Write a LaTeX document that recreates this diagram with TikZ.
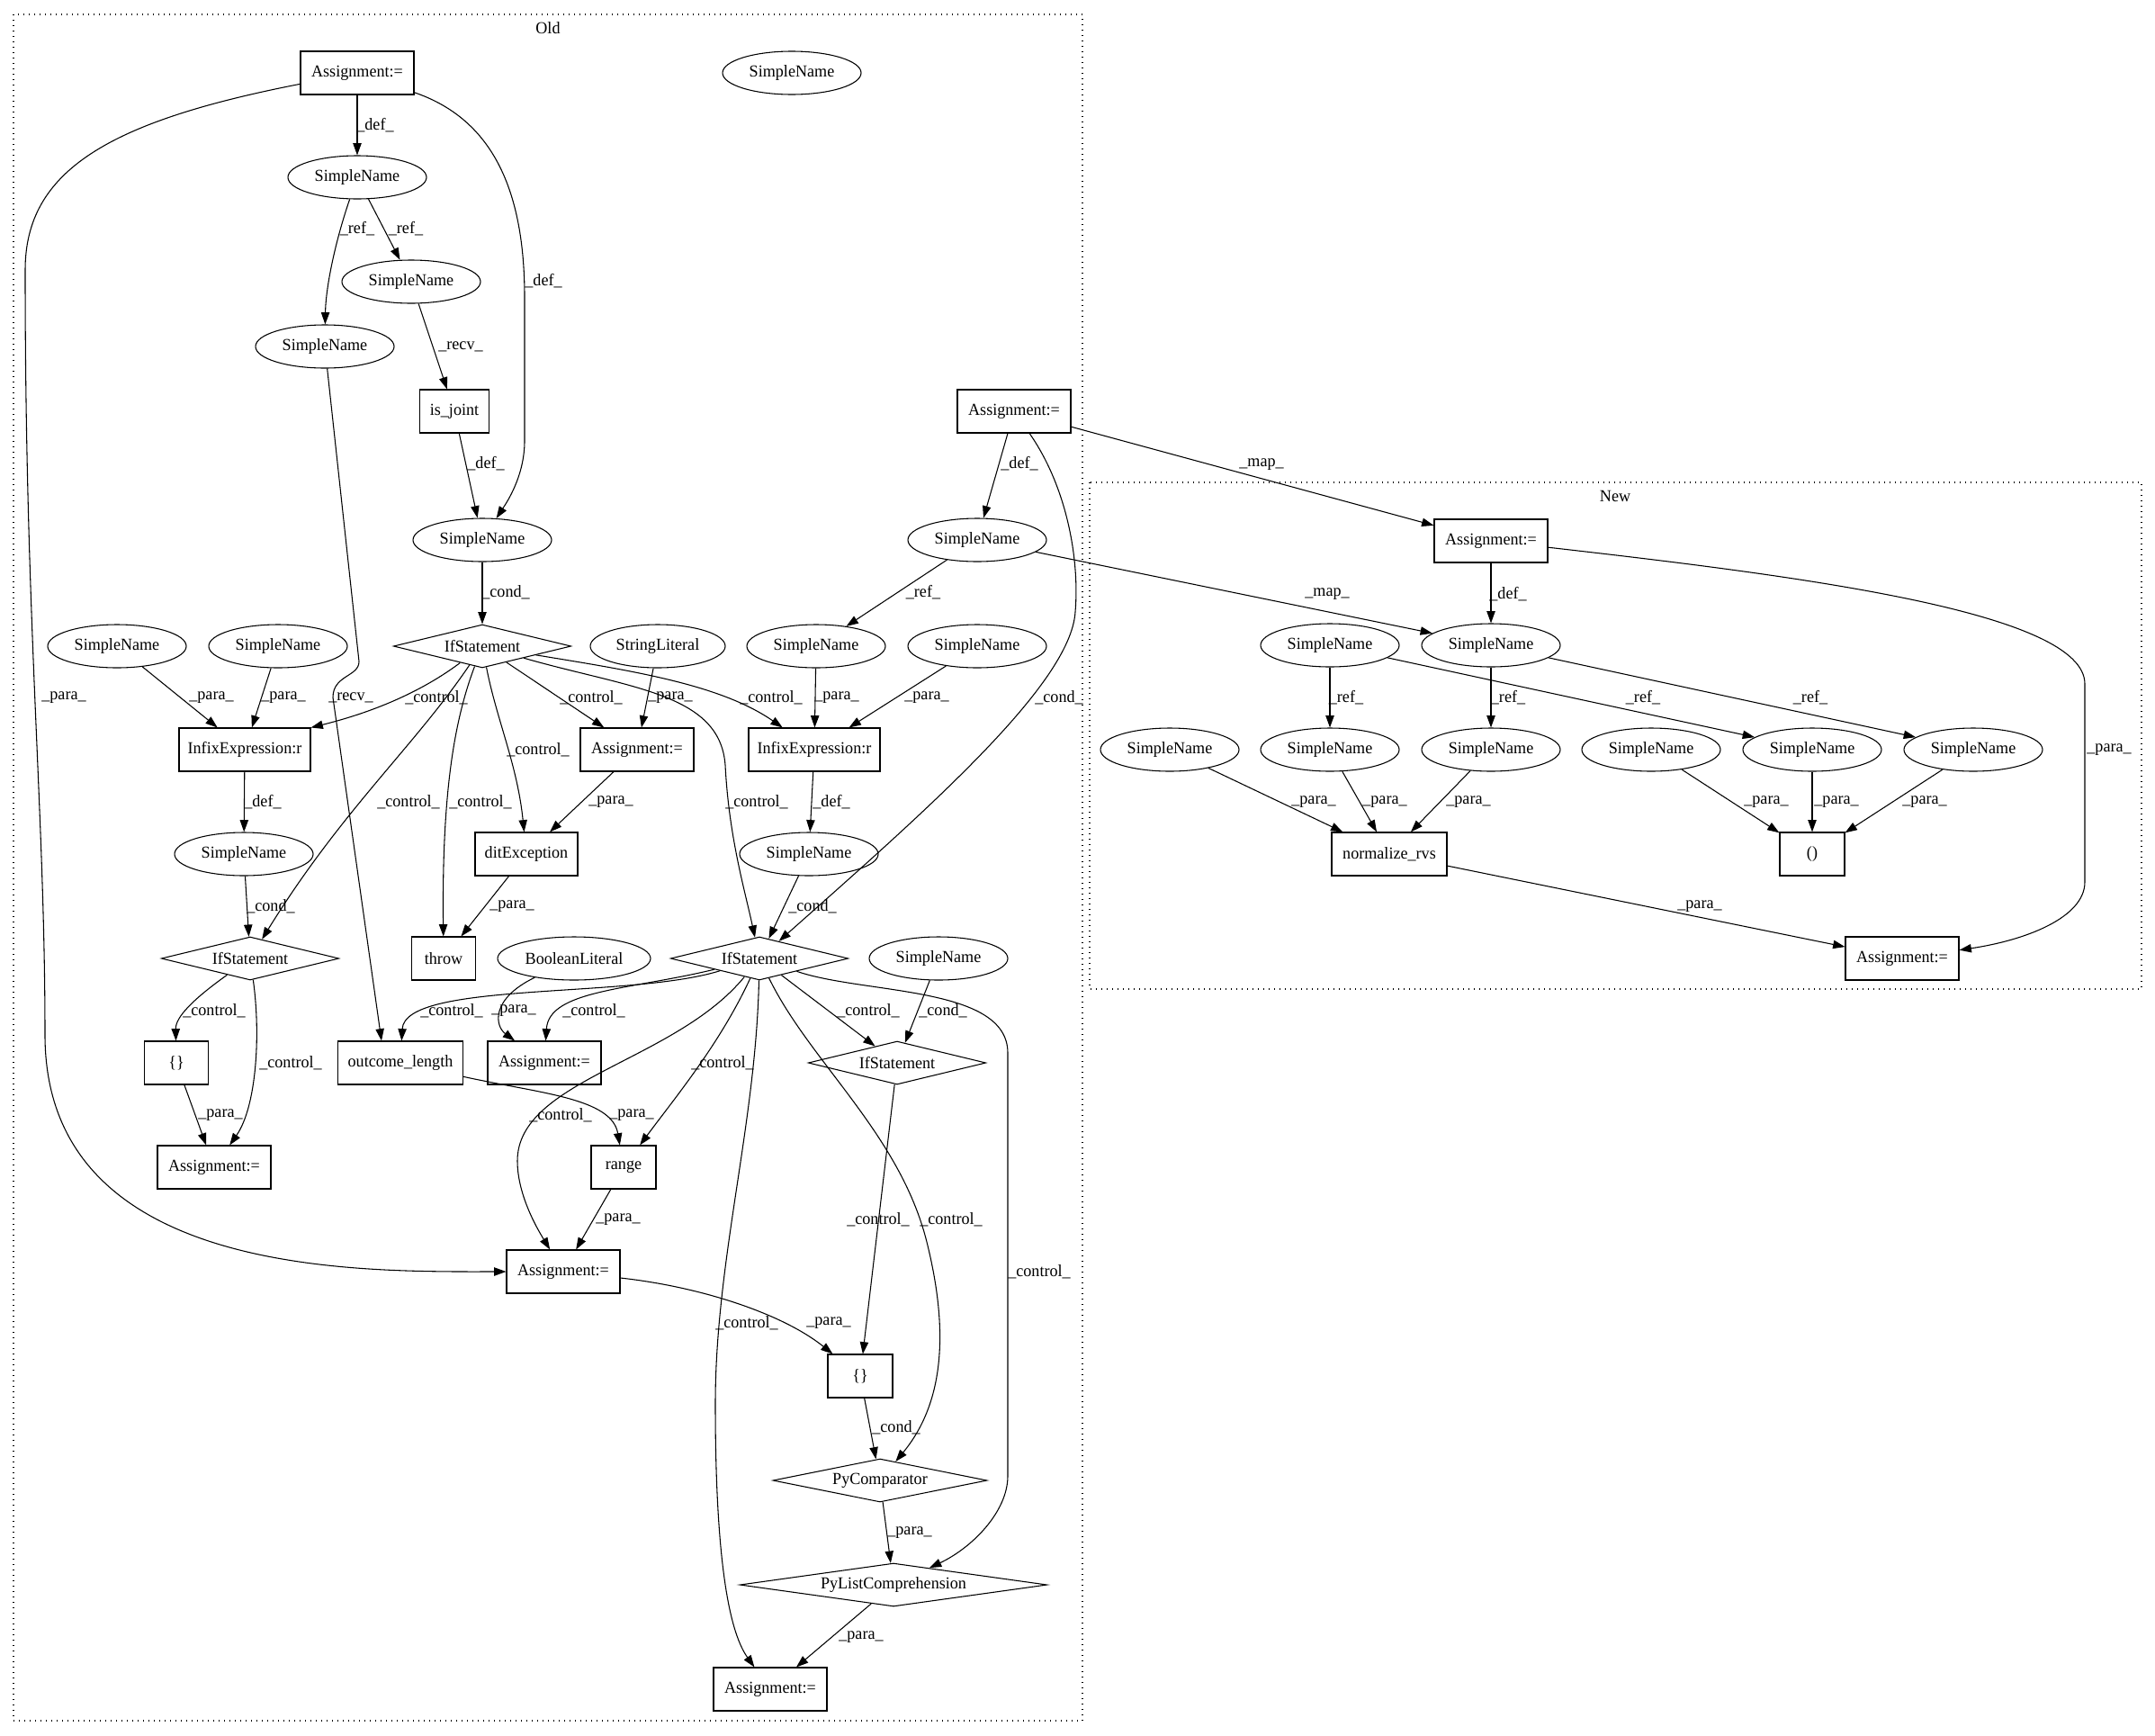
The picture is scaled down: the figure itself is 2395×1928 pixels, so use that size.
\documentclass[tikz,border=0pt]{standalone}
\usepackage{fontspec}
\setmainfont{Liberation Serif}[FakeStretch=0.97]
\usetikzlibrary{shapes.geometric,arrows.meta,calc}
\begin{document}
\begin{tikzpicture}[x=0.75pt,y=-0.75pt,
  every node/.style={font=\fontsize{14}{16}\selectfont},
  sn/.style={draw, ellipse, minimum width=115.5pt, minimum height=36pt, inner sep=0pt, line width=0.8pt},
  bx/.style={draw, rectangle, minimum height=36pt, inner sep=0pt, line width=0.8pt},
  dm/.style={draw, diamond, aspect=4, minimum height=36pt, inner sep=0pt, line width=0.8pt},
  e/.style={line width=0.8pt, -{Triangle[length=10pt,width=7pt]}},
  lbl/.style={inner sep=0pt},
  cl/.style={draw, line width=0.9pt, dash pattern=on 1pt off 3.5pt}]
\useasboundingbox (0,0) rectangle (2395,1928);
\fill[white] (0,0) rectangle (2395,1928);
% clusters
\draw[cl] (15,16) rectangle (1203,1912);
\node (tOld) at (609,31) {Old};
\draw[cl] (1211,536) rectangle (2380,1099);
\node (tNew) at (1795,551) {New};
% Old nodes
\node[bx, minimum width=94.5pt] (A1) at (397,81) {Assignment:=};
\node[sn] (SNt) at (880,81) {SimpleName};
\node[sn] (SN1) at (397,197) {SimpleName};
\node[sn] (SN2) at (457,313) {SimpleName};
\node[sn] (SN3) at (361,385) {SimpleName};
\node[bx, minimum width=58pt] (isj) at (505,457) {is\_joint};
\node[bx, minimum width=94.5pt] (AR) at (1127,457) {Assignment:=};
\node[sn] (SN4) at (536,600) {SimpleName};
\node[sn] (SNR) at (1086,600) {SimpleName};
\node[dm, minimum width=148pt] (If1) at (536,718) {IfStatement};
\node[sn] (SN5) at (130,718) {SimpleName};
\node[sn] (SN6) at (309,718) {SimpleName};
\node[sn, minimum width=112.5pt] (StrL) at (731,718) {StringLiteral};
\node[sn] (SN7) at (907,718) {SimpleName};
\node[sn] (SN8) at (1086,718) {SimpleName};
\node[bx, minimum width=109.5pt] (Inf1) at (272,833) {InfixExpression:r};
\node[bx, minimum width=94.5pt] (As2) at (708,833) {Assignment:=};
\node[bx, minimum width=109.5pt] (Inf2) at (905,833) {InfixExpression:r};
\node[sn] (SN9) at (271,949) {SimpleName};
\node[bx, minimum width=85.5pt] (dit) at (585,949) {ditException};
\node[sn] (SN10) at (899,949) {SimpleName};
\node[dm, minimum width=148pt] (If2) at (278,1065) {IfStatement};
\node[bx, minimum width=53pt] (thr) at (493,1065) {throw};
\node[sn, minimum width=127.5pt] (BoolL) at (638,1065) {BooleanLiteral};
\node[dm, minimum width=148pt] (If3) at (844,1065) {IfStatement};
\node[sn] (SN11) at (1043,1065) {SimpleName};
\node[bx, minimum width=53pt] (Br1) at (196,1181) {\{\}};
\node[bx, minimum width=104pt] (ol) at (445,1181) {outcome\_length};
\node[bx, minimum width=94.5pt] (As3) at (605,1181) {Assignment:=};
\node[dm, minimum width=148pt] (If4) at (997,1181) {IfStatement};
\node[bx, minimum width=94.5pt] (As4) at (238,1297) {Assignment:=};
\node[bx, minimum width=54pt] (rng) at (693,1297) {range};
\node[bx, minimum width=94.5pt] (As5) at (626,1413) {Assignment:=};
\node[bx, minimum width=54pt] (Br2) at (956,1529) {\{\}};
\node[dm, minimum width=178.5pt] (PyC) at (978,1645) {PyComparator};
\node[dm, aspect=6, minimum width=256pt] (PyL) at (993,1761) {PyListComprehension};
\node[bx, minimum width=94.5pt] (As6) at (856,1877) {Assignment:=};
% New nodes
\node[bx, minimum width=94.5pt] (NA1) at (1657,601) {Assignment:=};
\node[sn] (NSd) at (1657,717) {SimpleName};
\node[sn] (NSa) at (1478,717) {SimpleName};
\node[sn] (NS1) at (1300,833) {SimpleName};
\node[sn] (NS2) at (1478,833) {SimpleName};
\node[sn] (NS3) at (1657,833) {SimpleName};
\node[sn] (NS4) at (1835,833) {SimpleName};
\node[sn] (NS5) at (2014,833) {SimpleName};
\node[sn] (NS6) at (2193,833) {SimpleName};
\node[bx, minimum width=96pt] (nrv) at (1544,949) {normalize\_rvs};
\node[bx, minimum width=54pt] (par) at (2014,949) {()};
\node[bx, minimum width=94.5pt] (NA2) at (2114,1065) {Assignment:=};
% Old edges
\draw[e] (A1) -- (SN1);
\draw[e] (A1) .. controls (540,130) and (583,200) .. (583,330) -- (583,490) .. controls (583,530) and (562,560) .. (SN4);
\draw[e] (A1) .. controls (120,135) and (28,190) .. (28,300) .. controls (28,700) and (50,900) .. (50,1150) .. controls (50,1420) and (400,1413) .. (As5);
\draw[e] (SN1) .. controls (372,270) and (362,320) .. (SN3);
\draw[e] (SN1) -- (SN2);
\draw[e] (SN2) -- (isj);
\draw[e] (isj) -- (SN4);
\draw[e] (SN4) -- (If1);
\draw[e] (SN3) -- (399,735) .. controls (399,752) and (370,750) .. (370,775) -- ($(ol.north)+(-21,0)$);
\draw[e] (If1) .. controls (460,775) and (400,795) .. (Inf1.north east);
\draw[e] (If1) .. controls (460,830) and (380,900) .. (If2);
\draw[e] (If1) .. controls (505,800) and (491,880) .. (thr);
\draw[e] (If1) .. controls (552,800) and (575,850) .. (dit);
\draw[e] (If1) -- (As2);
\draw[e] (If1) .. controls (700,765) and (800,770) .. (806,850) .. controls (810,930) and (828,990) .. (If3);
\draw[e] (If1) .. controls (700,745) and (800,760) .. (Inf2);
\draw[e] (SN5) -- (Inf1);
\draw[e] (SN6) -- (Inf1);
\draw[e] (StrL) -- (As2);
\draw[e] (SNR) -- (SN7);
\draw[e] (SN7) -- (Inf2);
\draw[e] (SN8) -- (Inf2);
\draw[e] (AR) -- (SNR);
\draw[e] (AR) .. controls (1185,540) and (1200,620) .. (1195,680) .. controls (1190,760) and (1030,900) .. (If3);
\draw[e] (AR) -- (NA1);
\draw[e] (Inf1) -- (SN9);
\draw[e] (As2) -- (dit);
\draw[e] (Inf2) -- (SN10);
\draw[e] (SN9) -- (If2);
\draw[e] (dit) -- (thr);
\draw[e] (SN10) -- (If3);
\draw[e] (If2) .. controls (215,1110) and (195,1130) .. (Br1);
\draw[e] (If2) .. controls (290,1150) and (285,1230) .. (As4);
\draw[e] (Br1) -- (As4);
\draw[e] (BoolL) .. controls (545,1110) and (550,1140) .. (As3);
\draw[e] (If3) .. controls (700,1110) and (450,1090) .. (ol);
\draw[e] (If3) .. controls (700,1100) and (610,1100) .. (As3);
\draw[e] (If3) .. controls (750,1180) and (575,1200) .. (575,1290) .. controls (575,1330) and (600,1370) .. (As5);
\draw[e] (If3) .. controls (800,1160) and (750,1220) .. (rng);
\draw[e] (If3) .. controls (840,1250) and (795,1400) .. (795,1560) .. controls (795,1720) and (808,1810) .. (As6);
\draw[e] (If3) -- (If4);
\draw[e] (SN11) -- (If4);
\draw[e] (If3) .. controls (900,1180) and (1000,1260) .. (1030,1380) .. controls (1060,1500) and (1040,1570) .. (PyC);
\draw[e] (If3) .. controls (960,1105) and (1120,1095) .. (1120,1170) -- (1120,1640) .. controls (1120,1680) and (1080,1720) .. (PyL);
\draw[e] (ol) .. controls (600,1215) and (680,1220) .. (rng);
\draw[e] (rng) -- (As5);
\draw[e] (If4) -- (Br2);
\draw[e] (As5) .. controls (780,1430) and (870,1460) .. (Br2);
\draw[e] (Br2) -- (PyC);
\draw[e] (PyC) -- (PyL);
\draw[e] (PyL) -- (As6);
% New edges
\draw[e] (SNR) -- (NSd);
\draw[e] (NA1) -- (NSd);
\draw[e] (NA1) .. controls (2000,640) and (2317,680) .. (2317,760) -- (2317,980) .. controls (2317,1020) and (2250,1045) .. (NA2);
\draw[e] (NSa) -- (NS2);
\draw[e] (NSa) -- (NS5);
\draw[e] (NSd) -- (NS3);
\draw[e] (NSd) -- (NS6);
\draw[e] (NS1) -- (nrv);
\draw[e] (NS2) -- (nrv);
\draw[e] (NS3) -- (nrv);
\draw[e] (NS4) -- (par);
\draw[e] (NS5) -- (par);
\draw[e] (NS6) -- (par);
\draw[e] (nrv) -- (NA2);
% labels
\node[lbl] (l1) at (417,139) {\_def\_};
\node[lbl] (l2) at (604,312) {\_def\_};
\node[lbl] (l3) at (71,775) {\_para\_};
\node[lbl] (l4) at (397,254) {\_ref\_};
\node[lbl] (l5) at (451,254) {\_ref\_};
\node[lbl] (l6) at (512,385) {\_recv\_};
\node[lbl] (l7) at (540,515) {\_def\_};
\node[lbl] (l8) at (562,658) {\_cond\_};
\node[lbl] (l9) at (390,775) {\_recv\_};
\node[lbl] (l10) at (485,775) {\_control\_};
\node[lbl] (l11) at (454,891) {\_control\_};
\node[lbl] (l12) at (534,891) {\_control\_};
\node[lbl] (l13) at (598,833) {\_control\_};
\node[lbl] (l14) at (657,775) {\_control\_};
\node[lbl] (l15) at (841,891) {\_control\_};
\node[lbl] (l16) at (857,775) {\_control\_};
\node[lbl] (l17) at (235,775) {\_para\_};
\node[lbl] (l18) at (315,775) {\_para\_};
\node[lbl] (l19) at (745,775) {\_para\_};
\node[lbl] (l20) at (1026,658) {\_ref\_};
\node[lbl] (l21) at (930,775) {\_para\_};
\node[lbl] (l22) at (1030,775) {\_para\_};
\node[lbl] (l23) at (1133,515) {\_def\_};
\node[lbl] (l24) at (1177,775) {\_cond\_};
\node[lbl] (l25) at (1402,516) {\_map\_};
\node[lbl] (l26) at (292,891) {\_def\_};
\node[lbl] (l27) at (679,891) {\_para\_};
\node[lbl] (l28) at (924,891) {\_def\_};
\node[lbl] (l29) at (301,1007) {\_cond\_};
\node[lbl] (l30) at (569,1007) {\_para\_};
\node[lbl] (l31) at (903,1007) {\_cond\_};
\node[lbl] (l32) at (238,1123) {\_control\_};
\node[lbl] (l33) at (323,1181) {\_control\_};
\node[lbl] (l34) at (245,1239) {\_para\_};
\node[lbl] (l35) at (571,1123) {\_para\_};
\node[lbl] (l36) at (502,1123) {\_control\_};
\node[lbl] (l37) at (660,1123) {\_control\_};
\node[lbl] (l38) at (623,1239) {\_control\_};
\node[lbl] (l39) at (803,1181) {\_control\_};
\node[lbl] (l40) at (830,1470) {\_control\_};
\node[lbl] (l41) at (965,1123) {\_control\_};
\node[lbl] (l42) at (1048,1123) {\_cond\_};
\node[lbl] (l43) at (1057,1355) {\_control\_};
\node[lbl] (l44) at (1155,1413) {\_control\_};
\node[lbl] (l45) at (702,1239) {\_para\_};
\node[lbl] (l46) at (687,1355) {\_para\_};
\node[lbl] (l47) at (976,1355) {\_control\_};
\node[lbl] (l48) at (921,1470) {\_para\_};
\node[lbl] (l49) at (996,1586) {\_cond\_};
\node[lbl] (l50) at (1011,1703) {\_para\_};
\node[lbl] (l51) at (957,1819) {\_para\_};
\node[lbl] (l52) at (1475,660) {\_map\_};
\node[lbl] (l53) at (1676,660) {\_def\_};
\node[lbl] (l54) at (2344,833) {\_para\_};
\node[lbl] (l55) at (1496,775) {\_ref\_};
\node[lbl] (l56) at (1826,775) {\_ref\_};
\node[lbl] (l57) at (1676,775) {\_ref\_};
\node[lbl] (l58) at (2012,775) {\_ref\_};
\node[lbl] (l59) at (1460,891) {\_para\_};
\node[lbl] (l60) at (1539,891) {\_para\_};
\node[lbl] (l61) at (1632,891) {\_para\_};
\node[lbl] (l62) at (1963,891) {\_para\_};
\node[lbl] (l63) at (2041,891) {\_para\_};
\node[lbl] (l64) at (2139,891) {\_para\_};
\node[lbl] (l65) at (1889,1007) {\_para\_};
\end{tikzpicture}
\end{document}
